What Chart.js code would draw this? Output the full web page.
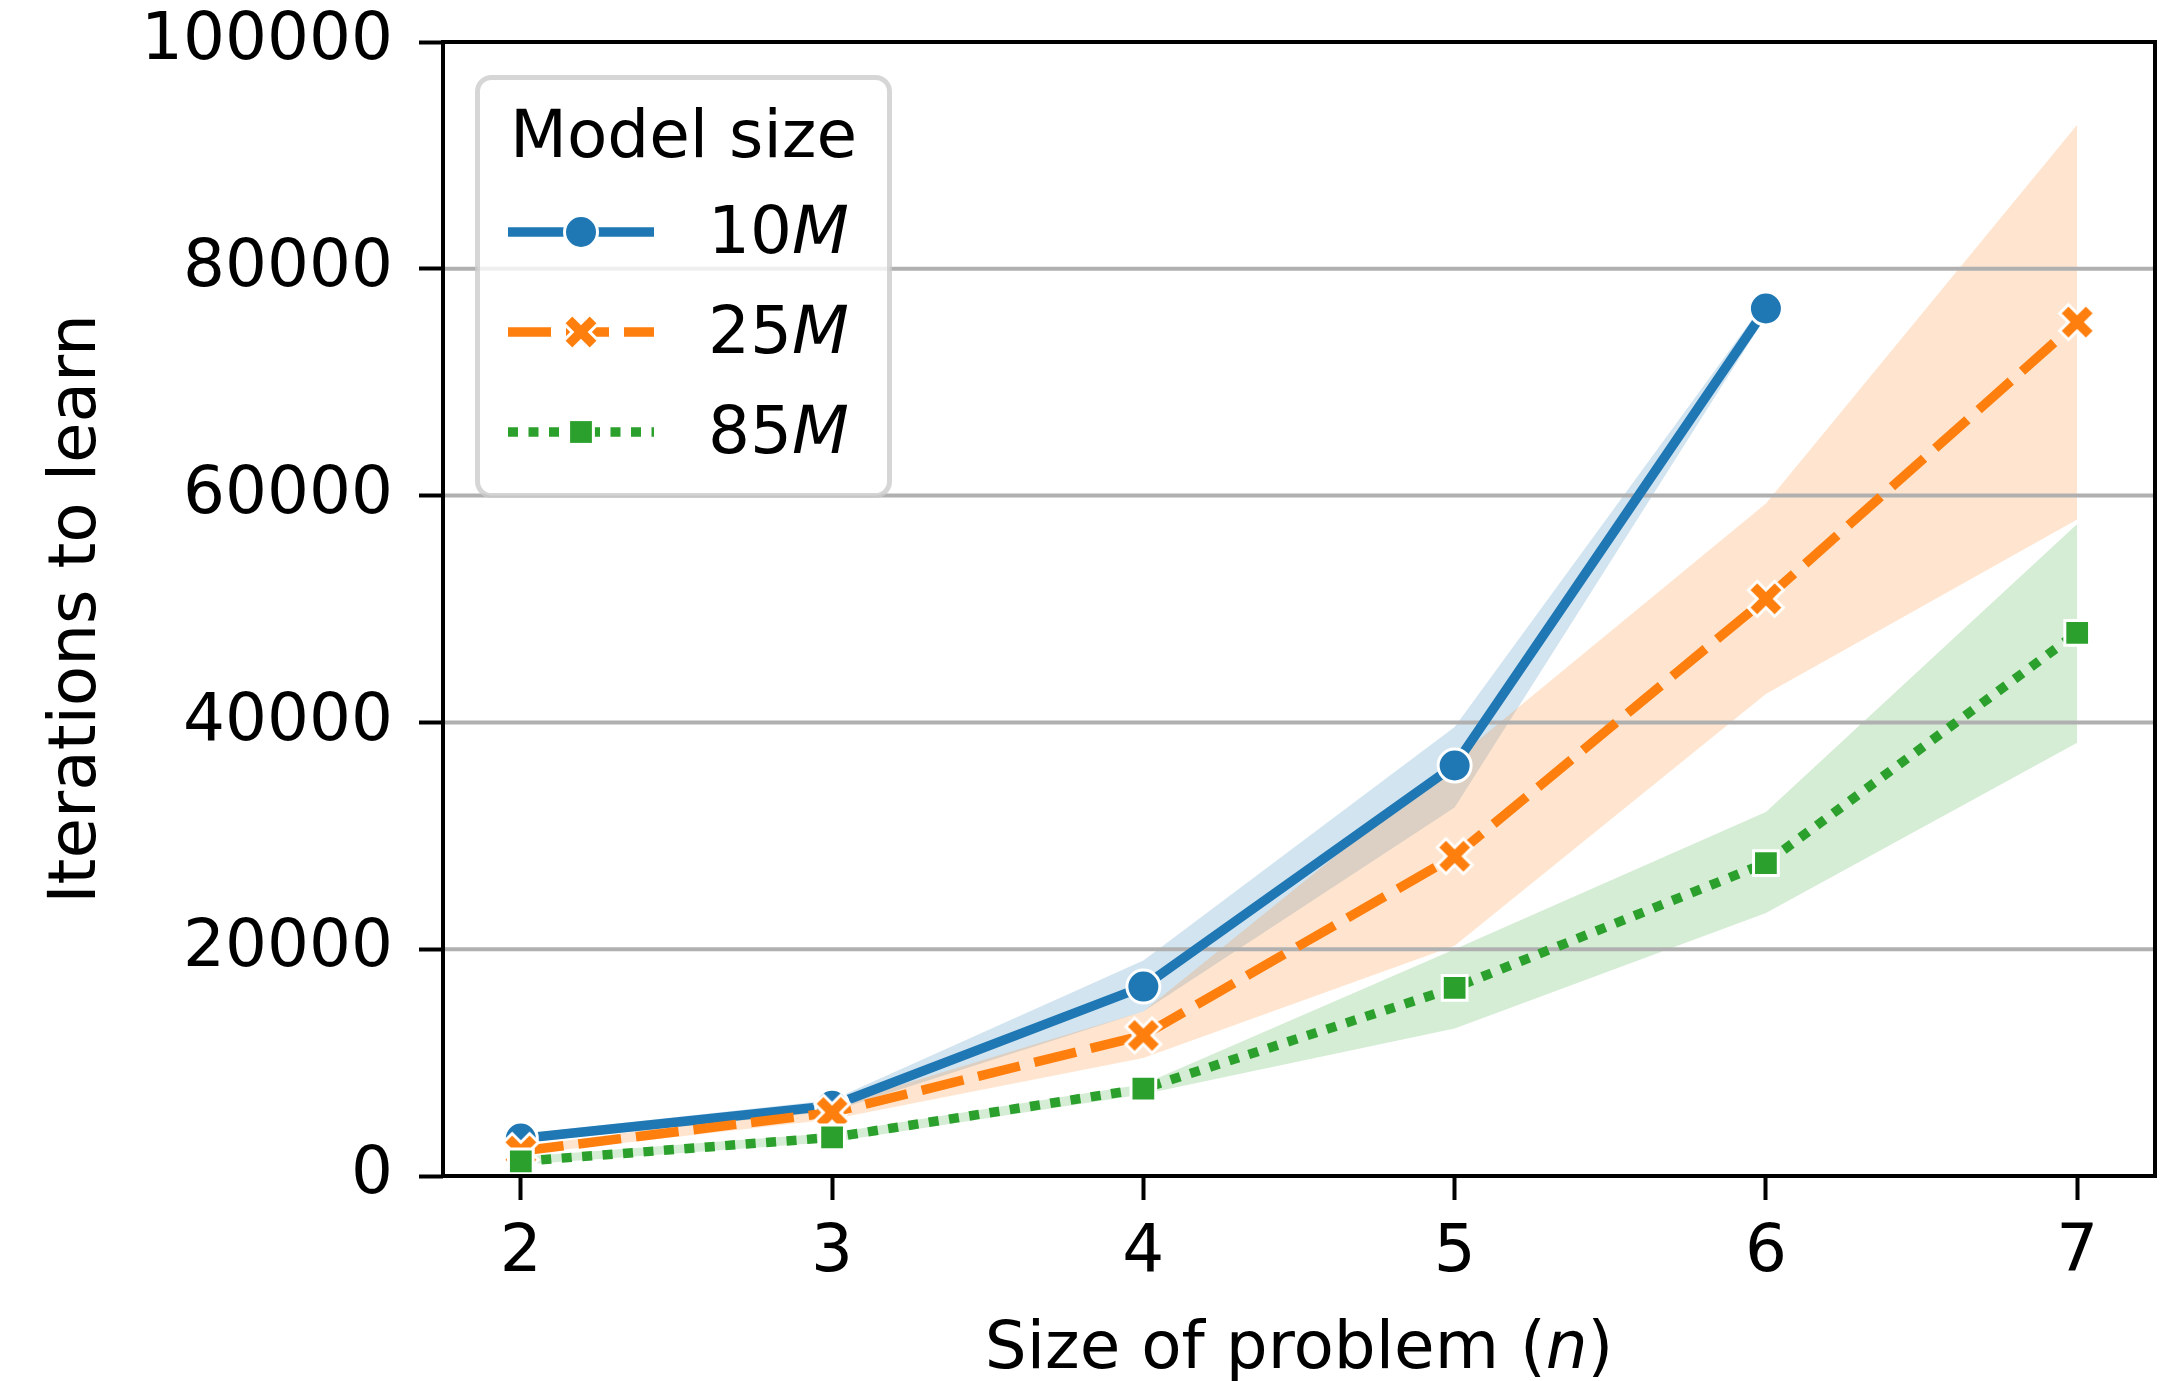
<!DOCTYPE html>
<html>
<head>
<meta charset="utf-8">
<script src="https://cdn.jsdelivr.net/npm/chart.js@4.4.1/dist/chart.umd.min.js"></script>
<style>
  html, body { margin: 0; padding: 0; background: #fff; }
  canvas { display: block; }
</style>
</head>
<body>
<canvas id="chart" width="2182" height="1381"></canvas>
<script>
// problem sizes (x) and y ticks
var sizes = [2, 3, 4, 5, 6, 7];
var yTicks = [0, 20000, 40000, 60000, 80000, 100000];

// mean iterations to learn, per model size
var m10 = [3300, 6200, 16700, 36200, 76500, null];
var m25 = [2200, 5600, 12400, 28200, 50900, 75300];
var m85 = [1300, 3400, 7700, 16600, 27600, 47900];

// error band bounds
var m10Lo = [2900, 5700, 14500, 32500, 75800, null];
var m10Hi = [3700, 6700, 19000, 39600, 77200, null];
var m25Lo = [1900, 5000, 10400, 20300, 42500, 57900];
var m25Hi = [2600, 6200, 14500, 36700, 59300, 92700];
var m85Lo = [1000, 3000, 7200, 13000, 23200, 38200];
var m85Hi = [1700, 3800, 8100, 20000, 32100, 57500];

var legendNames = ['10', '25', '85'];

var blue = '#1f77b4', orange = '#ff7f0e', green = '#2ca02c';
var LW = 9.5;
var dashes = [[], [43, 15], [10, 10.5]];

Chart.defaults.font.family = "'DejaVu Sans'";
Chart.defaults.color = '#000';

function pts(vals) {
  return sizes.map(function (x, i) { return { x: x, y: vals[i] }; });
}

// filled "X" marker with white edge
function makeX(color) {
  var c = document.createElement('canvas');
  c.width = 48; c.height = 48;
  var g = c.getContext('2d');
  var a = 18.5, b = 6.2;
  var p = [[b, b], [b, a], [-b, a], [-b, b], [-a, b], [-a, -b], [-b, -b], [-b, -a], [b, -a], [b, -b], [a, -b], [a, b]];
  g.translate(24, 24);
  g.rotate(Math.PI / 4);
  g.beginPath();
  p.forEach(function (q, i) { if (i) g.lineTo(q[0], q[1]); else g.moveTo(q[0], q[1]); });
  g.closePath();
  g.fillStyle = color;
  g.fill();
  g.strokeStyle = '#fff';
  g.lineWidth = 3;
  g.stroke();
  return c;
}
var xMarker = makeX(orange);

function lineSet(label, vals, color, dash, style, radius, order) {
  return {
    label: label,
    data: pts(vals),
    borderColor: color,
    backgroundColor: color,
    borderWidth: LW,
    borderDash: dash,
    borderJoinStyle: 'round',
    pointStyle: style,
    pointRadius: radius,
    pointBackgroundColor: color,
    pointBorderColor: '#fff',
    pointBorderWidth: 3,
    fill: false,
    tension: 0,
    order: order
  };
}

function bandSet(vals, color, lower, order) {
  return {
    data: pts(vals),
    borderWidth: 0,
    borderColor: 'rgba(0,0,0,0)',
    backgroundColor: color,
    pointRadius: 0,
    fill: lower ? '-1' : false,
    tension: 0,
    order: order
  };
}

function drawRuns(ctx, runs, x, y, center) {
  var total = 0;
  runs.forEach(function (r) { ctx.font = r[1]; total += ctx.measureText(r[0]).width; });
  var cx = center ? x - total / 2 : x;
  ctx.textAlign = 'left';
  ctx.textBaseline = 'alphabetic';
  ctx.fillStyle = '#000';
  runs.forEach(function (r) { ctx.font = r[1]; ctx.fillText(r[0], cx, y); cx += ctx.measureText(r[0]).width; });
}

var F = "66px 'DejaVu Sans'", FI = "italic 66px 'DejaVu Sans'";

function drawMarker(ctx, kind, x, y, color) {
  ctx.save();
  if (kind === 'circle') {
    ctx.beginPath();
    ctx.arc(x, y, 16.5, 0, Math.PI * 2);
    ctx.fillStyle = color; ctx.fill();
    ctx.strokeStyle = '#fff'; ctx.lineWidth = 3; ctx.stroke();
  } else if (kind === 'rect') {
    var s = 12.4;
    ctx.fillStyle = color; ctx.fillRect(x - s, y - s, 2 * s, 2 * s);
    ctx.strokeStyle = '#fff'; ctx.lineWidth = 3; ctx.strokeRect(x - s, y - s, 2 * s, 2 * s);
  } else {
    ctx.drawImage(xMarker, x - 24, y - 24);
  }
  ctx.restore();
}

function noPad(s) {
  s.paddingTop = 0; s.paddingBottom = 0; s.paddingLeft = 0; s.paddingRight = 0;
}

var decor = {
  id: 'decor',
  beforeDatasetsDraw: function (chart) {
    var ctx = chart.ctx, a = chart.chartArea, ys = chart.scales.y;
    ctx.save();
    ctx.strokeStyle = '#b0b0b0';
    ctx.lineWidth = 4;
    yTicks.forEach(function (v) {
      var py = ys.getPixelForValue(v);
      ctx.beginPath(); ctx.moveTo(a.left, py); ctx.lineTo(a.right, py); ctx.stroke();
    });
    ctx.restore();
  },
  afterDatasetsDraw: function (chart) {
    var ctx = chart.ctx, a = chart.chartArea;
    ctx.save();
    ctx.strokeStyle = '#000';
    ctx.lineWidth = 4;
    ctx.strokeRect(a.left, a.top, a.right - a.left, a.bottom - a.top);
    ctx.restore();
  },
  afterDraw: function (chart) {
    var ctx = chart.ctx, a = chart.chartArea;
    ctx.save();
    // x axis title
    drawRuns(ctx, [['Size of problem (', F], ['n', FI], [')', F]], (a.left + a.right) / 2, 1368, true);

    // legend frame
    var bx = 477.5, by = 77.5, bw = 412, bh = 418, r = 14;
    ctx.beginPath();
    ctx.moveTo(bx + r, by);
    ctx.arcTo(bx + bw, by, bx + bw, by + bh, r);
    ctx.arcTo(bx + bw, by + bh, bx, by + bh, r);
    ctx.arcTo(bx, by + bh, bx, by, r);
    ctx.arcTo(bx, by, bx + bw, by, r);
    ctx.closePath();
    ctx.fillStyle = 'rgba(255,255,255,0.8)';
    ctx.fill();
    ctx.strokeStyle = 'rgba(204,204,204,0.8)';
    ctx.lineWidth = 5;
    ctx.stroke();

    ctx.font = F;
    ctx.fillStyle = '#000';
    ctx.textAlign = 'center';
    ctx.textBaseline = 'alphabetic';
    ctx.fillText('Model size', bx + bw / 2, 157);

    var colors = [blue, orange, green];
    var kinds = ['circle', 'x', 'rect'];
    legendNames.forEach(function (name, i) {
      var y = 232 + i * 100;
      ctx.save();
      ctx.strokeStyle = colors[i];
      ctx.lineWidth = LW;
      ctx.setLineDash(dashes[i]);
      ctx.beginPath(); ctx.moveTo(508, y); ctx.lineTo(654, y); ctx.stroke();
      ctx.restore();
      drawMarker(ctx, kinds[i], 581, y, colors[i]);
      drawRuns(ctx, [[name, F], ['M', FI]], 708, y + 21, false);
    });
    ctx.restore();
  }
};

new Chart(document.getElementById('chart'), {
  type: 'line',
  data: {
    datasets: [
      lineSet('10M', m10, blue, dashes[0], 'circle', 16.5, 2),
      lineSet('25M', m25, orange, dashes[1], xMarker, 18, 1),
      lineSet('85M', m85, green, dashes[2], 'rect', 17.5, 0),
      bandSet(m10Hi, 'rgba(31,119,180,0.2)', false, 5),
      bandSet(m10Lo, 'rgba(31,119,180,0.2)', true, 5),
      bandSet(m25Hi, 'rgba(255,127,14,0.2)', false, 4),
      bandSet(m25Lo, 'rgba(255,127,14,0.2)', true, 4),
      bandSet(m85Hi, 'rgba(44,160,44,0.2)', false, 3),
      bandSet(m85Lo, 'rgba(44,160,44,0.2)', true, 3)
    ]
  },
  options: {
    responsive: false,
    animation: false,
    events: [],
    layout: { padding: { top: 42, right: 27, left: 0, bottom: 0 } },
    plugins: {
      legend: { display: false },
      tooltip: { enabled: false },
      filler: { drawTime: 'beforeDatasetsDraw' }
    },
    scales: {
      x: {
        type: 'linear',
        min: 1.75,
        max: 7.25,
        afterBuildTicks: function (s) { s.ticks = sizes.map(function (v) { return { value: v }; }); },
        afterFit: function (s) { s.height = 205; noPad(s); },
        grid: { drawOnChartArea: false, drawTicks: true, tickLength: 24, tickColor: '#000', tickWidth: 4 },
        border: { display: false },
        ticks: { font: { size: 66 }, color: '#000', padding: 14, maxRotation: 0, autoSkip: false,
          callback: function (v) { return String(v); } }
      },
      y: {
        min: 0,
        max: 100000,
        afterBuildTicks: function (s) { s.ticks = yTicks.map(function (v) { return { value: v }; }); },
        afterFit: function (s) { s.width = 443; noPad(s); },
        grid: { drawOnChartArea: false, drawTicks: true, tickLength: 24, tickColor: '#000', tickWidth: 4 },
        border: { display: false },
        ticks: { font: { size: 66 }, color: '#000', padding: 26,
          callback: function (v) { return String(v); } },
        title: { display: true, text: 'Iterations to learn', font: { size: 66 }, color: '#000',
          padding: { top: 38, bottom: 0 } }
      }
    }
  },
  plugins: [decor]
});
</script>
</body>
</html>
